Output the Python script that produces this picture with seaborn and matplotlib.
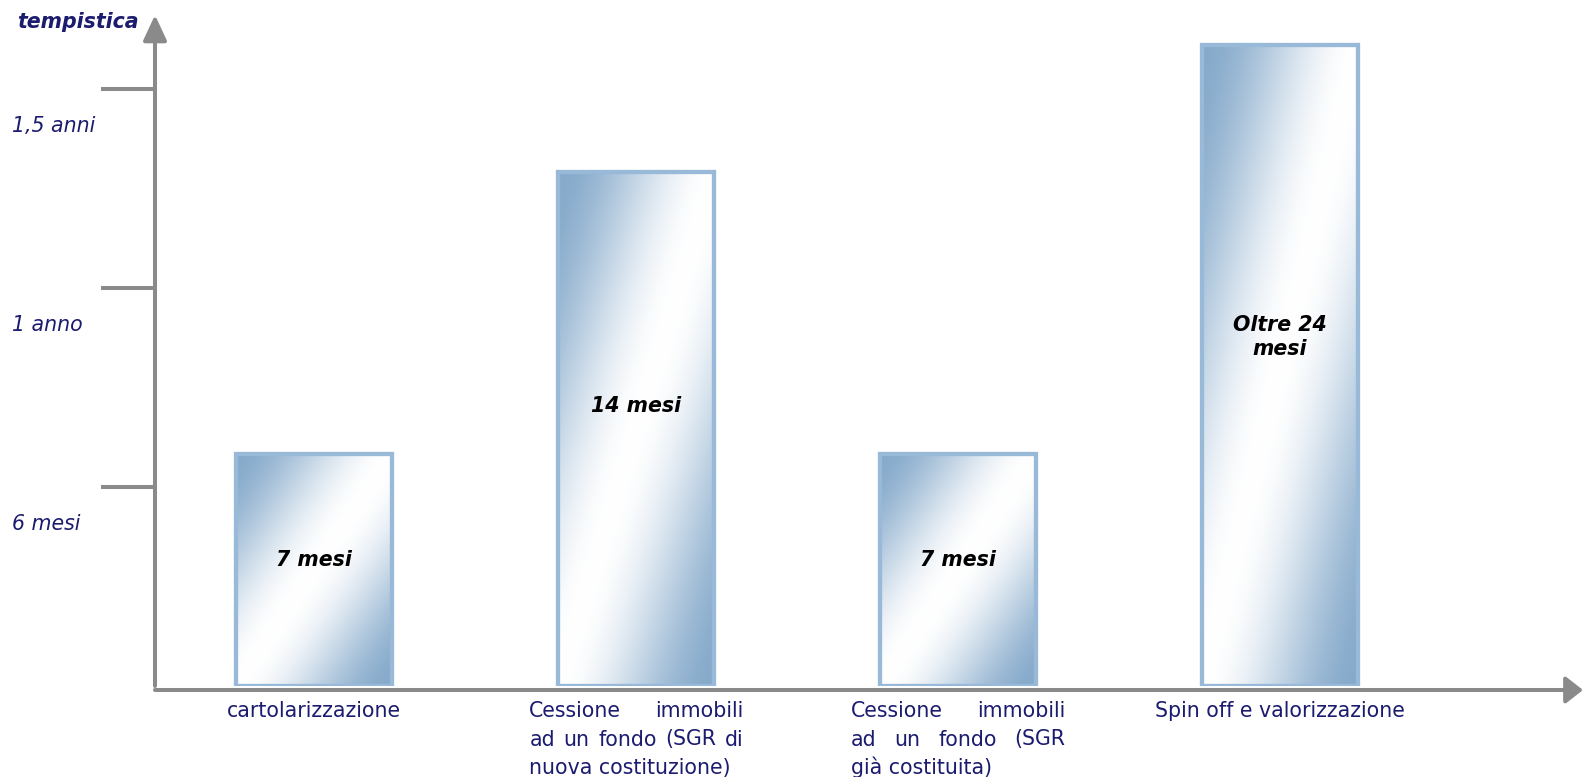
import matplotlib
matplotlib.use("Agg")
import matplotlib.pyplot as plt
from matplotlib.ticker import NullLocator
import numpy as np
import pandas as pd
import seaborn as sns

# ---- data -------------------------------------------------------------
categories = [
    "cartolarizzazione",
    "Cessione immobili\nad un fondo (SGR di\nnuova costituzione)",
    "Cessione immobili\nad un fondo (SGR\ngià costituita)",
    "Spin off e valorizzazione",
]
durations_months = [7, 14, 7, 24]
bar_labels = ["7 mesi", "14 mesi", "7 mesi", "Oltre 24\nmesi"]
tick_months = [6, 12, 18]
tick_labels = ["6 mesi", "1 anno", "1,5 anni"]
axis_title = "tempistica"

# ---- style --------------------------------------------------------------
GREY = "#8a8a8a"
NAVY = "#1b1b6f"
EDGE = "#98b9d8"
BLUE = np.array([0x86, 0xaa, 0xcb]) / 255.0
FS = 14.8

# schematic time axis: regular up to a year, then condensed
_month_knots = [-100, 0, 12, 14, 18, 24, 1000]
_axis_knots = [-100, 0, 12, 15.5, 18, 19.34, 19.34 + 0.3 * 976]


def to_axis(m):
    return np.interp(m, _month_knots, _axis_knots)


def from_axis(a):
    return np.interp(a, _axis_knots, _month_knots)


sns.set_theme(style="white")
plt.rcParams["font.family"] = ["DejaVu Sans"]

W_PX, H_PX = 1584, 777
fig = plt.figure(figsize=(W_PX / 100, H_PX / 100), dpi=100)
ax = fig.add_axes([155 / W_PX, 1 - 686 / H_PX, (1583 - 155) / W_PX, (686 - 15) / H_PX])

df = pd.DataFrame({"categoria": categories, "mesi": durations_months})
sns.barplot(data=df, x="categoria", y="mesi", color="white", width=0.485,
            errorbar=None, ax=ax)

ax.set_yscale("function", functions=(to_axis, from_axis))
XLIM = (-0.495, 3.941)
YLIM = (0, float(from_axis(20.24)))
ax.set_xlim(*XLIM)
ax.set_ylim(*YLIM)
for sp in ax.spines.values():
    sp.set_visible(False)
ax.grid(False)
ax.set_xlabel("")
ax.set_ylabel("")
ax.tick_params(axis="x", bottom=False, labelbottom=False)
ax.set_yticks(tick_months)
ax.yaxis.set_minor_locator(NullLocator())
ax.tick_params(axis="y", which="major", left=True, length=38.9, width=2.9,
               color=GREY, direction="out", labelleft=False)

# ---- bars with diagonal shaded fill ------------------------------------
n = 256
u, v = np.meshgrid(np.linspace(0, 1, n), np.linspace(0, 1, n))
d = np.clip(np.abs((u + v) - 1.0), 0, 1)
s = d * d * (3 - 2 * d)  # smoothstep: broad pale band, saturated corners
grad = (1 - s)[..., None] * np.ones(3) + s[..., None] * BLUE

fig.canvas.draw()
renderer = fig.canvas.get_renderer()
for patch in ax.patches:
    patch.set_facecolor("none")
    patch.set_edgecolor(EDGE)
    patch.set_linewidth(3.1)
    patch.set_zorder(2)
    bb = patch.get_window_extent(renderer).transformed(ax.transAxes.inverted())
    im = ax.imshow(grad, extent=(bb.x0, bb.x1, bb.y0, bb.y1), origin="upper",
                   transform=ax.transAxes, aspect="auto", zorder=1.5,
                   interpolation="bilinear")
    im.set_clip_path(patch)
ax.set_xlim(*XLIM)
ax.set_ylim(*YLIM)

# ---- value labels inside bars -------------------------------------------
for i, (val, lab) in enumerate(zip(durations_months, bar_labels)):
    x_d, base = ax.transData.transform((i, 0))
    _, top = ax.transData.transform((i, val))
    y_d = base + 0.545 * (top - base)
    fig.text(x_d / W_PX, y_d / H_PX, lab, ha="center", va="center",
             fontsize=FS, fontweight="bold", fontstyle="italic", color="black",
             linespacing=1.25)

# ---- axes with arrow heads ----------------------------------------------
ax.annotate("", xy=(0, 1), xytext=(0, 0), xycoords="axes fraction",
            arrowprops=dict(arrowstyle="-|>,head_length=15.5,head_width=7.2",
                            mutation_scale=1, lw=2.9, color=GREY,
                            shrinkA=0, shrinkB=0),
            annotation_clip=False)
y_off = -4 / (686 - 15)
ax.annotate("", xy=(1, y_off), xytext=(0, y_off), xycoords="axes fraction",
            arrowprops=dict(arrowstyle="-|>,head_length=10.5,head_width=8.2",
                            mutation_scale=1, lw=2.9, color=GREY,
                            shrinkA=0, shrinkB=0),
            annotation_clip=False)

# ---- y tick labels, set just below each tick ---------------------------
for m, lab in zip(tick_months, tick_labels):
    _, y_d = ax.transData.transform((0, m))
    fig.text(12 / W_PX, (y_d - 37) / H_PX, lab, ha="left", va="center",
             fontsize=FS, fontstyle="italic", color=NAVY)

fig.text(17 / W_PX, 1 - 22 / H_PX, axis_title, ha="left", va="center",
         fontsize=FS, fontweight="bold", fontstyle="italic", color=NAVY)

# ---- category labels (justified blocks) ---------------------------------
BOX_W = 214
BASE_Y = 717
STEP = 28.5
txt_kw = dict(fontsize=FS, color=NAVY, va="baseline")
for i, text in enumerate(categories):
    xc, _ = ax.transData.transform((i, 0))
    lines = text.split("\n")
    left = xc - BOX_W / 2
    for k, line in enumerate(lines):
        y_f = 1 - (BASE_Y + k * STEP) / H_PX
        if len(lines) == 1:
            fig.text(xc / W_PX, y_f, line, ha="center", **txt_kw)
            continue
        words = line.split(" ")
        if k == len(lines) - 1 or len(words) == 1:
            fig.text(left / W_PX, y_f, line, ha="left", **txt_kw)
            continue
        arts = [fig.text(0, y_f, w, ha="left", **txt_kw) for w in words]
        widths = [a.get_window_extent(renderer).width for a in arts]
        gap = (BOX_W - sum(widths)) / (len(words) - 1)
        x = left
        for a, wd in zip(arts, widths):
            a.set_x(x / W_PX)
            x += wd + gap

fig.savefig("out.png", dpi=100)
